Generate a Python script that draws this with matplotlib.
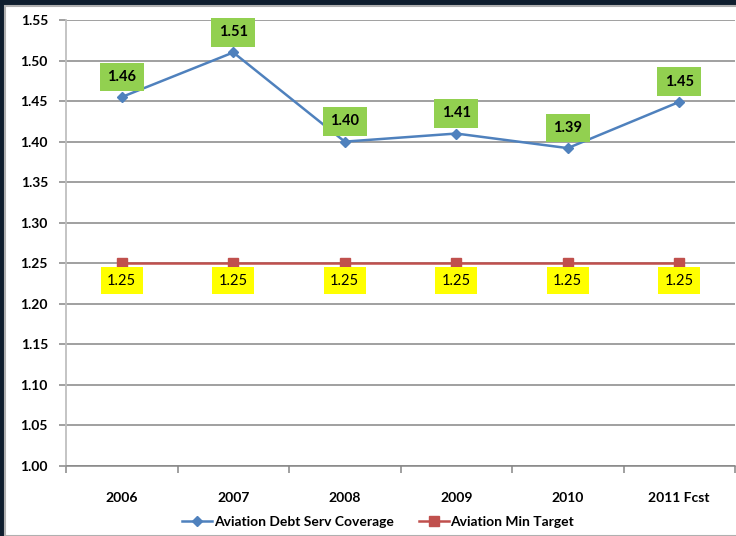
import matplotlib.pyplot as plt
from matplotlib.patches import Rectangle
from matplotlib.lines import Line2D

plt.rcParams['font.family'] = ['Lato', 'DejaVu Sans']

years = ['2006', '2007', '2008', '2009', '2010', '2011 Fcst']
coverage = [1.455, 1.51, 1.40, 1.41, 1.392, 1.449]
min_target = [1.25, 1.25, 1.25, 1.25, 1.25, 1.25]
y_ticks = [1.00, 1.05, 1.10, 1.15, 1.20, 1.25, 1.30, 1.35, 1.40, 1.45, 1.50, 1.55]

blue = '#4f81bd'
red = '#c0504d'

fig = plt.figure(figsize=(7.36, 5.36), dpi=100)
fig.patch.set_facecolor('#0f1e2e')
# white chart panel, kept behind the axes
fig.patches.append(Rectangle((5 / 736, 0), 1, 1 - 6 / 536, transform=fig.transFigure,
                             facecolor='white', edgecolor='#b0b0b0', linewidth=1.5,
                             zorder=-10))

ax = fig.add_axes([66 / 736, 1 - 466 / 536, 669 / 736, 446 / 536])
ax.set_facecolor('white')
x = list(range(len(years)))

ax.plot(x, coverage, color=blue, lw=1.8, marker='D', ms=5, zorder=3)
ax.plot(x, min_target, color=red, lw=1.8, marker='s', ms=6.5, zorder=3)

for xi, v in zip(x, coverage):
    ax.annotate(f'{v:.2f}', (xi, v), xytext=(0, 14.5), textcoords='offset points',
                ha='center', va='center', fontsize=10.5, fontweight='bold', color='black',
                bbox=dict(boxstyle='square,pad=0.5', facecolor='#92d050', edgecolor='none'),
                zorder=4)
for xi, v in zip(x, min_target):
    ax.annotate(f'{v:.2f}', (xi, v), xytext=(0, -12.5), textcoords='offset points',
                ha='center', va='center', fontsize=10.5, color='black',
                bbox=dict(boxstyle='square,pad=0.45', facecolor='#ffff00', edgecolor='none'),
                zorder=4)

ax.set_ylim(1.0, 1.55)
ax.set_xlim(-0.5, 5.5)
ax.set_yticks(y_ticks)
ax.set_yticklabels([f'{t:.2f}' for t in y_ticks])
ax.set_xticks(x)
ax.set_xticklabels(years)
ax.set_xticks([i - 0.5 for i in range(len(years) + 1)], minor=True)
ax.grid(axis='y', color='#868686', lw=1.1)
ax.set_axisbelow(True)

for s in ['top', 'right']:
    ax.spines[s].set_visible(False)
ax.spines['left'].set_color('#bfbfbf')
ax.spines['left'].set_linewidth(1.3)
ax.spines['bottom'].set_color('#868686')
ax.spines['bottom'].set_linewidth(1.1)

ax.tick_params(axis='y', length=5, width=1.1, color='#868686', pad=8,
               labelsize=10)
ax.tick_params(axis='x', which='major', length=0, pad=19, labelsize=10)
ax.tick_params(axis='x', which='minor', length=5, width=1.1, color='#868686')
for lab in ax.get_xticklabels() + ax.get_yticklabels():
    lab.set_fontweight('bold')

handles = [Line2D([], [], color=blue, lw=1.8, marker='D', ms=5),
           Line2D([], [], color=red, lw=1.8, marker='s', ms=6.5)]
leg = fig.legend(handles, ['Aviation Debt Serv Coverage', 'Aviation Min Target'],
                 loc='center', bbox_to_anchor=(378 / 736, 1 - 522 / 536), ncol=2,
                 frameon=False, handlelength=2.2, handletextpad=0.1, columnspacing=1.8,
                 prop={'weight': 'bold', 'size': 10})

fig.savefig('out.png', dpi=100, facecolor=fig.get_facecolor())
